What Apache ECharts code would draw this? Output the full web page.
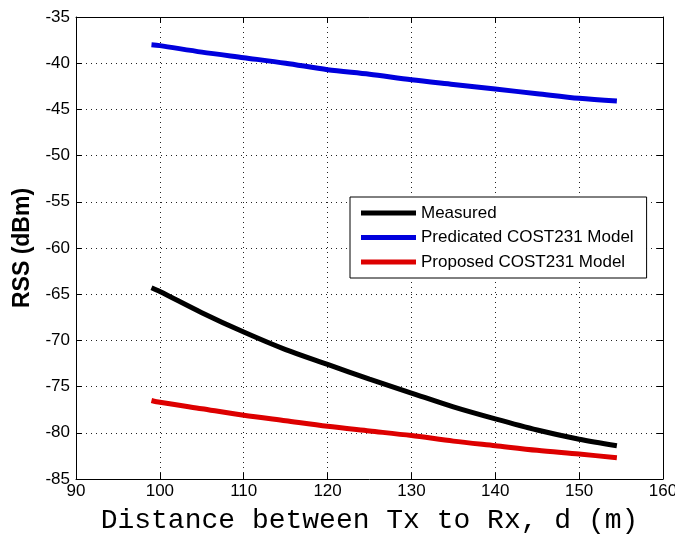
<!DOCTYPE html>
<html>
<head>
<meta charset="utf-8">
<script src="https://cdn.jsdelivr.net/npm/echarts@6/dist/echarts.min.js"></script>
<style>html,body{margin:0;padding:0;background:#fff;}#c{width:675px;height:538px;}</style>
</head>
<body>
<div id="c"></div>
<script>
const distance = [99, 100, 105, 110, 115, 120, 125, 130, 135, 140, 145, 150, 154.5];
const measured = [-64.3, -64.7, -67.0, -69.1, -71.0, -72.6, -74.2, -75.7, -77.2, -78.5, -79.7, -80.7, -81.4];
const predicated = [-38.0, -38.1, -38.8, -39.4, -40.0, -40.7, -41.2, -41.8, -42.3, -42.8, -43.3, -43.8, -44.1];
const proposed = [-76.5, -76.7, -77.4, -78.1, -78.7, -79.3, -79.8, -80.3, -80.9, -81.4, -81.9, -82.3, -82.7];
const seriesNames = ['Measured', 'Predicated COST231 Model', 'Proposed COST231 Model'];
const xTitle = 'Distance between Tx to Rx, d (m)';
const yTitle = 'RSS (dBm)';

const pairs = arr => distance.map((d, i) => [d, arr[i]]);
const chart = echarts.init(document.getElementById('c'));
const dotted = { show: true, lineStyle: { color: '#222', width: 1, type: [1, 4] } };
const tickStyle = { show: true, inside: true, length: 6, lineStyle: { color: '#000', width: 1 } };
const lblFont = { color: '#000', fontFamily: 'Liberation Sans', fontSize: 17 };

chart.setOption({
  animation: false,
  backgroundColor: '#fff',
  grid: { left: 76, right: 12, top: 17, bottom: 59, containLabel: false, outerBoundsMode: 'none' },
  legend: {
    orient: 'vertical', left: 350, top: 197,
    padding: [6, 13, 6, 11], itemGap: 4.5,
    itemWidth: 55, itemHeight: 5, icon: 'rect',
    borderColor: '#000', borderWidth: 1, backgroundColor: '#fff',
    textStyle: { color: '#000', fontFamily: 'Liberation Sans', fontSize: 17, lineHeight: 20 },
    data: seriesNames
  },
  xAxis: [{
    type: 'value', min: 90, max: 160, interval: 10,
    name: xTitle, nameLocation: 'middle', nameGap: 28,
    nameTextStyle: { color: '#000', fontFamily: 'Liberation Mono', fontSize: 28 },
    axisLine: { show: true, onZero: false, lineStyle: { color: '#000', width: 1 } },
    axisTick: tickStyle,
    axisLabel: Object.assign({ margin: 4 }, lblFont),
    splitLine: dotted
  }, {
    type: 'value', min: 90, max: 160, interval: 10, position: 'top',
    axisLine: { show: true, onZero: false, lineStyle: { color: '#000', width: 1 } },
    axisTick: tickStyle, axisLabel: { show: false }, splitLine: { show: false }
  }],
  yAxis: [{
    type: 'value', min: -85, max: -35, interval: 5,
    name: yTitle, nameLocation: 'middle', nameGap: 37,
    nameTextStyle: { color: '#000', fontFamily: 'Liberation Sans', fontSize: 23, fontWeight: 'bold' },
    axisLine: { show: true, onZero: false, lineStyle: { color: '#000', width: 1 } },
    axisTick: tickStyle,
    axisLabel: Object.assign({ margin: 6 }, lblFont),
    splitLine: dotted
  }, {
    type: 'value', min: -85, max: -35, interval: 5, position: 'right',
    axisLine: { show: true, onZero: false, lineStyle: { color: '#000', width: 1 } },
    axisTick: tickStyle, axisLabel: { show: false }, splitLine: { show: false }
  }],
  series: [
    { name: seriesNames[0], type: 'line', data: pairs(measured), smooth: 0.3, showSymbol: false, symbol: 'none',
      color: '#000', lineStyle: { color: '#000', width: 5 } },
    { name: seriesNames[1], type: 'line', data: pairs(predicated), smooth: 0.3, showSymbol: false, symbol: 'none',
      color: '#0000dd', lineStyle: { color: '#0000dd', width: 5 } },
    { name: seriesNames[2], type: 'line', data: pairs(proposed), smooth: 0.3, showSymbol: false, symbol: 'none',
      color: '#dd0000', lineStyle: { color: '#dd0000', width: 5 } }
  ]
});
</script>
</body>
</html>
